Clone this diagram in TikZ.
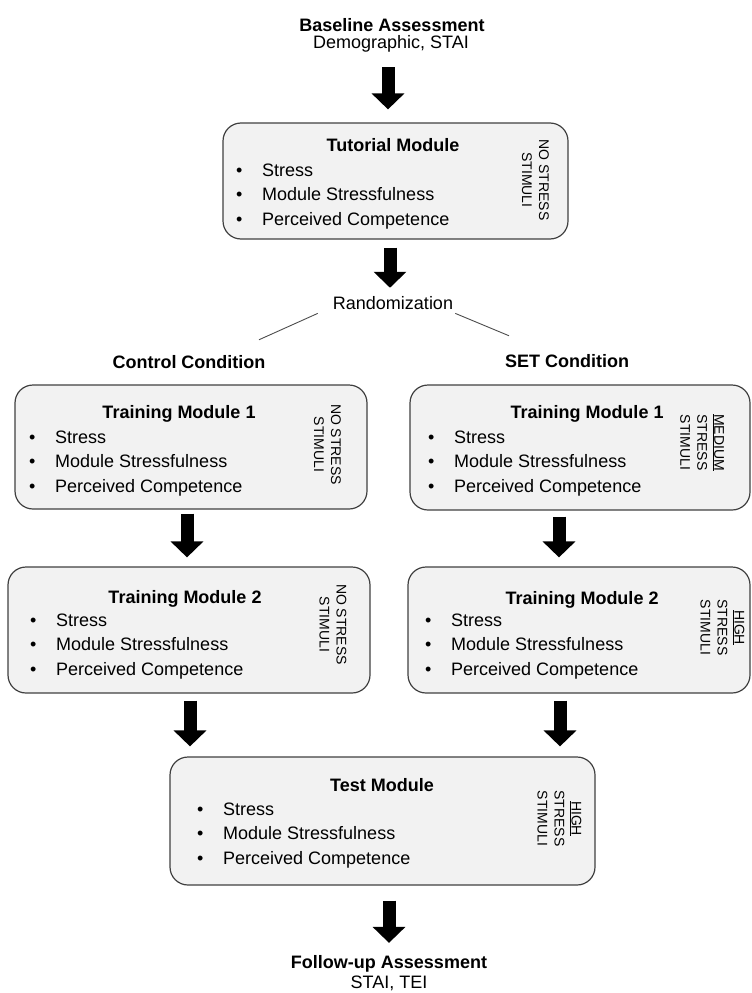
\documentclass[tikz,border=0pt]{standalone}
\usepackage{fontspec}
\setmainfont{Liberation Sans}
\usepackage{tikz}
\usetikzlibrary{arrows.meta}
\definecolor{boxfill}{RGB}{242,242,242}
\definecolor{boxline}{RGB}{64,64,64}
\newcommand\itm{\makebox[26pt][l]{\textbullet}}

\begin{document}
\begin{tikzpicture}[x=1pt,y=-1pt,font=\fontsize{18}{24.5}\selectfont,
modbox/.style={draw=boxline,line width=1.2pt,fill=boxfill,rounded corners=18pt,inner sep=0},
ttl/.style={font=\fontsize{18}{24.5}\selectfont\bfseries,anchor=base,inner sep=0},
txt/.style={anchor=base,inner sep=0},
lst/.style={anchor=north west,align=left,inner sep=0},
side/.style={rotate=-90,align=center,inner sep=0,font=\fontsize{14}{17}\selectfont},
blk/.style={-{Triangle[width=32pt,length=16pt]},line width=13pt},
split/.style={draw=black!70,line width=.9pt}]
\useasboundingbox(0,0)rectangle(752,993);

\node[ttl](baseT)at(392,31.5){Baseline Assessment};
\node[txt](baseS)at(391,48.5){Demographic, STAI};

\node[modbox,minimum width=345pt,minimum height=116pt](tut)at(395.5,181){};
\node[ttl](tutT)at(393,151.5){Tutorial Module};
\node[lst](tutL)at(236,163.5){\itm Stress\\\itm Module Stressfulness\\\itm Perceived Competence};
\node[side](tutS)at(535.5,180){NO STRESS\\STIMULI};

\node[txt](rand)at(393,309.5){Randomization};
\node[ttl](ctrl)at(189,368.5){Control Condition};
\node[ttl](set)at(567,367.5){SET Condition};
\draw[split]([shift={(-15pt,-3.5pt)}]rand.south west)--([shift={(70pt,15.5pt)}]ctrl.north);
\draw[split]([shift={(2pt,-3.5pt)}]rand.south east)--([shift={(-58pt,18.5pt)}]set.north);

% control condition
\node[modbox,minimum width=352pt,minimum height=124pt](c1)at(191,447){};
\node[ttl](c1T)at(179,418.5){Training Module 1};
\node[lst](c1L)at(29,430.5){\itm Stress\\\itm Module Stressfulness\\\itm Perceived Competence};
\node[side](c1S)at(327.5,444.5){NO STRESS\\STIMULI};
\node[modbox,minimum width=362pt,minimum height=126pt](c2)at(189,630){};
\node[ttl](c2T)at(185,603.5){Training Module 2};
\node[lst](c2L)at(30,613.5){\itm Stress\\\itm Module Stressfulness\\\itm Perceived Competence};
\node[side](c2S)at(333,624.5){NO STRESS\\STIMULI};

% SET condition
\node[modbox,minimum width=340pt,minimum height=125pt](s1)at(580,447.5){};
\node[ttl](s1T)at(587,418.5){Training Module 1};
\node[lst](s1L)at(428,430.5){\itm Stress\\\itm Module Stressfulness\\\itm Perceived Competence};
\node[side](s1S)at(702,442.5){\underline{MEDIUM}\\STRESS\\STIMULI};
\node[modbox,minimum width=342pt,minimum height=126pt](s2)at(579,630){};
\node[ttl](s2T)at(582,604.5){Training Module 2};
\node[lst](s2L)at(425,613.5){\itm Stress\\\itm Module Stressfulness\\\itm Perceived Competence};
\node[side](s2S)at(722.5,627.5){\underline{HIGH}\\STRESS\\STIMULI};

\node[modbox,minimum width=425pt,minimum height=128pt](tst)at(382.5,821){};
\node[ttl](tstT)at(382,791.5){Test Module};
\node[lst](tstL)at(197,802.5){\itm Stress\\\itm Module Stressfulness\\\itm Perceived Competence};
\node[side](tstS)at(559.5,818.5){\underline{HIGH}\\STRESS\\STIMULI};

\node[ttl](fuT)at(389,968.5){Follow-up Assessment};
\node[txt](fuS)at(389,988.5){STAI, TEI};

\draw[blk,shorten <=14.7pt,shorten >=13pt]([xshift=-3pt]baseS.south)--([xshift=-3pt]baseS.south|-tut.north);
\draw[blk,shorten <=8pt,shorten >=8.5pt]([xshift=-5.5pt]tut.south)--([xshift=-5.5pt]tut.south|-rand.north);
\draw[blk,shorten <=4pt,shorten >=9pt]([xshift=-4pt]c1.south)--([xshift=-4pt]c1.south|-c2.north);
\draw[blk,shorten <=6pt,shorten >=9pt]([xshift=-21pt]s1.south)--([xshift=-21pt]s1.south|-s2.north);
\draw[blk,shorten <=7pt,shorten >=10pt]([xshift=1pt]c2.south)--([xshift=1pt]c2.south|-tst.north);
\draw[blk,shorten <=7pt,shorten >=10pt]([xshift=-19pt]s2.south)--([xshift=-19pt]s2.south|-tst.north);
\draw[blk,shorten <=15pt,shorten >=12.4pt]([xshift=6.5pt]tst.south)--([xshift=6.5pt]tst.south|-fuT.north);
\end{tikzpicture}
\end{document}
